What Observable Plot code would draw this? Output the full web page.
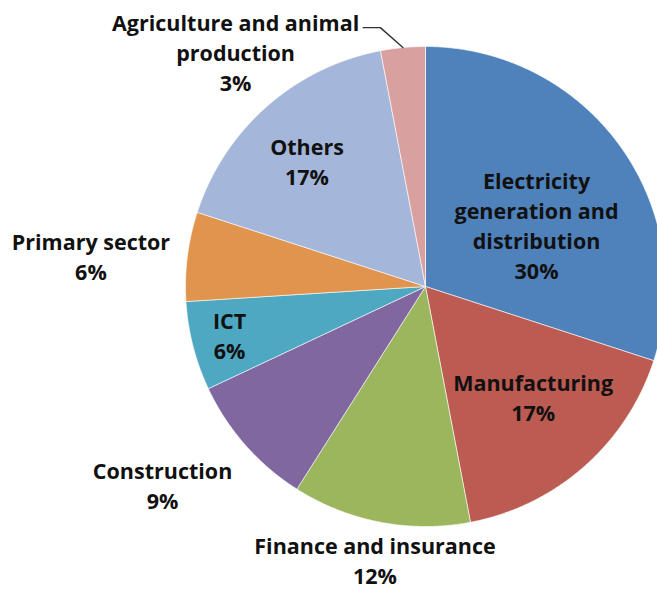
<!DOCTYPE html>
<html>
<head>
<meta charset="utf-8">
<script src="https://cdn.jsdelivr.net/npm/d3@7"></script>
<script src="https://cdn.jsdelivr.net/npm/@observablehq/plot@0.6"></script>
<style>
  html, body { margin: 0; padding: 0; background: #fff; }
  #chart svg { display: block; }
</style>
</head>
<body>
<div id="chart"></div>
<script>
// ---- data ----
const sectors = ["Electricity generation and distribution", "Manufacturing", "Finance and insurance", "Construction", "ICT", "Primary sector", "Others", "Agriculture and animal production"];
const shares = [30, 17, 12, 9, 6, 6, 17, 3];
const labelText = ["Electricity\ngeneration and\ndistribution", "Manufacturing", "Finance and insurance", "Construction", "ICT", "Primary sector", "Others", "Agriculture and animal\nproduction"];
const sliceColors = ["#4F81BB", "#BC5B51", "#9BB65C", "#8167A0", "#4EA8C1", "#E1944E", "#A4B6D9", "#D8A1A0"];

// ---- layout (label placement relative to slice mid-angle) ----
const labelRadius = [0.53, 0.64, 1.155, 1.37, 0.84, 1.40, 0.72, 1.26];
const labelAngleNudge = [6.8, -3.1, -0.3, 4.5, 0.7, -1.9, -1.9, -33.5];

const pie = d3.pie().sort(null).value(d => d)(shares);
const deg = Math.PI / 180;

// slice polygons in unit-circle coordinates
const slicePts = [];
pie.forEach((p, i) => {
  slicePts.push({name: sectors[i], x: 0, y: 0});
  const n = Math.max(2, Math.ceil((p.endAngle - p.startAngle) / (0.4 * deg)));
  for (let k = 0; k <= n; k++) {
    const a = p.startAngle + (p.endAngle - p.startAngle) * k / n;
    slicePts.push({name: sectors[i], x: Math.sin(a), y: Math.cos(a)});
  }
  slicePts.push({name: sectors[i], x: 0, y: 0});
});

const labels = pie.map((p, i) => {
  const a = (p.startAngle + p.endAngle) / 2 + labelAngleNudge[i] * deg;
  return {
    text: labelText[i] + "\n" + shares[i] + "%",
    x: labelRadius[i] * Math.sin(a),
    y: labelRadius[i] * Math.cos(a)
  };
});

// leader line for the small agriculture slice
const agri = pie[7];
const am = (agri.startAngle + agri.endAngle) / 2;
const elbowA = am - 4.5 * deg;
const leader = [
  {x: Math.sin(am), y: Math.cos(am)},
  {x: 1.095 * Math.sin(elbowA), y: 1.095 * Math.cos(elbowA)},
  {x: 1.095 * Math.sin(elbowA) - 0.072, y: 1.095 * Math.cos(elbowA)}
];

const cx = 425, cy = 286, R = 240;

const chart = Plot.plot({
  width: 657,
  height: 590,
  margin: 0,
  style: {background: "white", overflow: "visible"},
  x: {domain: [-1, 1], range: [cx - R, cx + R], axis: null},
  y: {domain: [-1, 1], range: [cy + R, cy - R], axis: null},
  color: {domain: sectors, range: sliceColors},
  marks: [
    Plot.line(slicePts, {x: "x", y: "y", z: "name", fill: "name", stroke: "white", strokeWidth: 0.6, strokeLinejoin: "round"}),
    Plot.line(leader, {x: "x", y: "y", stroke: "#333", strokeWidth: 1.4}),
    Plot.text(labels, {x: "x", y: "y", text: "text", fontSize: 21.5, fontWeight: "bold", fontFamily: "Open Sans", lineHeight: 1.4, fill: "#111"})
  ]
});
document.getElementById("chart").appendChild(chart);
</script>
</body>
</html>
